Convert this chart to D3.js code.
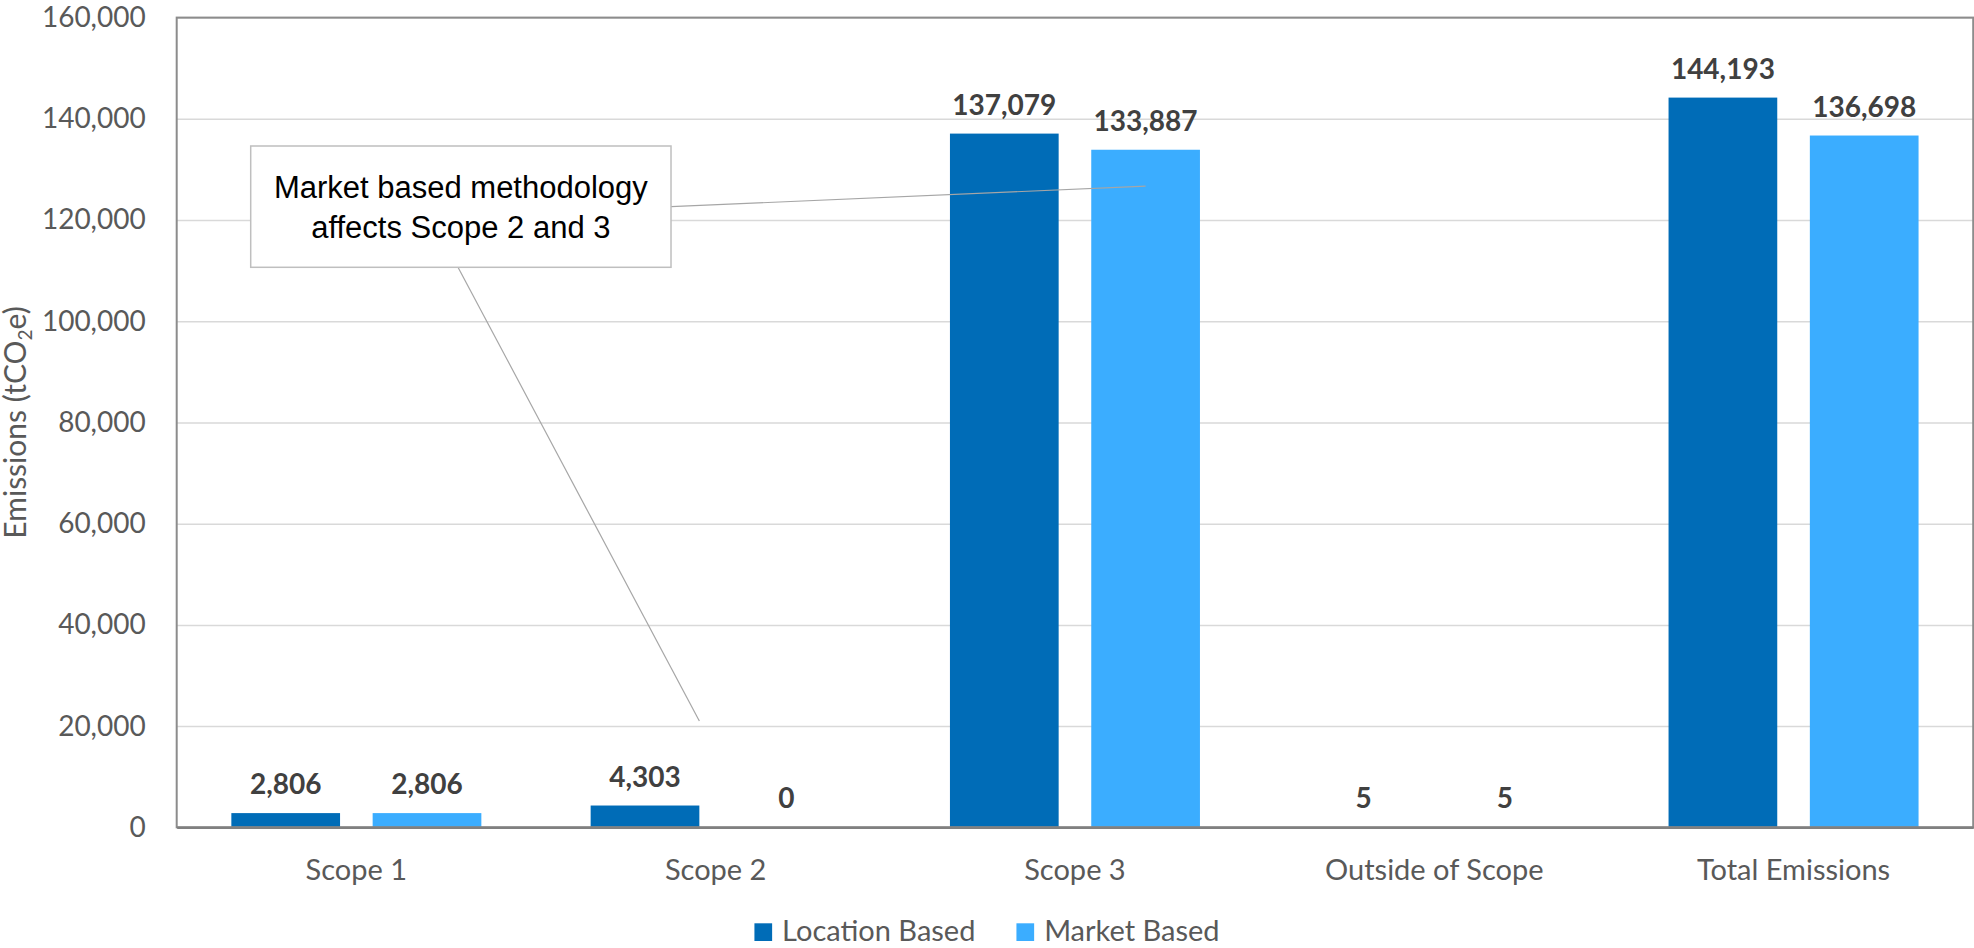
<!DOCTYPE html>
<html>
<head>
<meta charset="utf-8">
<script src="https://cdn.jsdelivr.net/npm/d3@7"></script>
<style>
  html, body { margin: 0; padding: 0; background: #ffffff; }
  svg { display: block; }
</style>
</head>
<body>
<svg id="chart" width="1974" height="948"></svg>
<script>
// ---- data ----
const categories = ["Scope 1", "Scope 2", "Scope 3", "Outside of Scope", "Total Emissions"];
const seriesNames = ["Location Based", "Market Based"];
const locationBased = [2806, 4303, 137079, 5, 144193];
const marketBased = [2806, 0, 133887, 5, 136698];
const yTicks = [0, 20000, 40000, 60000, 80000, 100000, 120000, 140000, 160000];
const seriesColors = ["#006CB7", "#3BADFF"];
const annotationLines = ["Market based methodology", "affects Scope 2 and 3"];

// ---- layout ----
const W = 1974, H = 948;
const plot = { left: 176.7, top: 17.6, right: 1973.2, bottom: 827.3 };

const svg = d3.select("#chart");

const x0 = d3.scaleBand().domain(categories).range([plot.left, plot.right])
  .paddingInner(0.3042).paddingOuter(0.1521);
const x1 = d3.scaleBand().domain(seriesNames).range([0, x0.bandwidth()])
  .paddingInner(0.2307).paddingOuter(0);
const y = d3.scaleLinear().domain([0, 160000]).range([plot.bottom, plot.top]);
const color = d3.scaleOrdinal().domain(seriesNames).range(seriesColors);

const rows = categories.map((c, i) => ({
  category: c,
  values: [
    { series: seriesNames[0], value: locationBased[i] },
    { series: seriesNames[1], value: marketBased[i] }
  ]
}));

// y axis with gridlines
const yAxis = d3.axisLeft(y).tickValues(yTicks).tickFormat(d3.format(","))
  .tickSize(-(plot.right - plot.left)).tickPadding(31);
const gy = svg.append("g").attr("transform", `translate(${plot.left},0)`).call(yAxis);
gy.select(".domain").remove();
gy.selectAll(".tick line").attr("stroke", "#D9D9D9").attr("stroke-width", 1.5);
gy.selectAll(".tick text")
  .attr("fill", "#595959")
  .style("font-family", "Lato, 'Open Sans', sans-serif")
  .style("font-size", "28px");

// bars
const groups = svg.append("g").selectAll("g").data(rows).join("g")
  .attr("transform", d => `translate(${x0(d.category)},0)`);

groups.selectAll("rect").data(d => d.values).join("rect")
  .attr("x", d => x1(d.series))
  .attr("y", d => y(d.value))
  .attr("width", x1.bandwidth())
  .attr("height", d => y(0) - y(d.value))
  .attr("fill", d => color(d.series));

// data labels
groups.selectAll("text.val").data(d => d.values).join("text")
  .attr("class", "val")
  .attr("x", d => x1(d.series) + x1.bandwidth() / 2)
  .attr("y", d => y(d.value) - 19)
  .attr("text-anchor", "middle")
  .attr("fill", "#404040")
  .style("font-family", "Lato, 'Open Sans', sans-serif")
  .style("font-weight", "bold")
  .style("font-size", "28px")
  .text(d => d3.format(",")(d.value));

// plot frame
svg.append("rect")
  .attr("x", plot.left).attr("y", plot.top)
  .attr("width", plot.right - plot.left).attr("height", plot.bottom - plot.top)
  .attr("fill", "none").attr("stroke", "#8C8C8C").attr("stroke-width", 2);

// x axis
const xAxis = d3.axisBottom(x0).tickSize(0).tickPadding(0);
const gx = svg.append("g").attr("transform", `translate(0,${plot.bottom})`).call(xAxis);
gx.select(".domain").attr("stroke", "#808080").attr("stroke-width", 2.5);
gx.selectAll(".tick text")
  .attr("y", 53).attr("dy", 0)
  .attr("fill", "#595959")
  .style("font-family", "Lato, 'Open Sans', sans-serif")
  .style("font-size", "29px");

// y axis title
const yTitle = svg.append("text")
  .attr("transform", `translate(26,${(plot.top + plot.bottom) / 2}) rotate(-90)`)
  .attr("text-anchor", "middle")
  .attr("fill", "#595959")
  .style("font-family", "Lato, 'Open Sans', sans-serif")
  .style("font-size", "30px");
yTitle.append("tspan").text("Emissions (tCO");
yTitle.append("tspan").attr("dy", 6).style("font-size", "19px").text("2");
yTitle.append("tspan").attr("dy", -6).text("e)");

// annotation callout
const box = { x: 250.7, y: 146, w: 420.3, h: 121.3 };
const annAnchors = [
  { from: [box.x + box.w, 206.7], cat: "Scope 3", series: "Market Based", frac: 0.5, value: 126700 },
  { from: [458, box.y + box.h], cat: "Scope 2", series: "Location Based", frac: 1.0, value: 21000 }
];
svg.append("g").selectAll("line").data(annAnchors).join("line")
  .attr("x1", d => d.from[0]).attr("y1", d => d.from[1])
  .attr("x2", d => x0(d.cat) + x1(d.series) + x1.bandwidth() * d.frac)
  .attr("y2", d => y(d.value))
  .attr("stroke", "#A6A6A6").attr("stroke-width", 1.2);

svg.append("rect")
  .attr("x", box.x).attr("y", box.y).attr("width", box.w).attr("height", box.h)
  .attr("fill", "#ffffff").attr("stroke", "#BFBFBF").attr("stroke-width", 1.5);
svg.append("g").selectAll("text").data(annotationLines).join("text")
  .attr("x", box.x + box.w / 2)
  .attr("y", (d, i) => 198 + i * 40)
  .attr("text-anchor", "middle")
  .attr("fill", "#000000")
  .style("font-family", "'Liberation Sans', Arial, sans-serif")
  .style("font-size", "31px")
  .text(d => d);

// legend
const legend = svg.append("g");
const items = legend.selectAll("g").data(seriesNames).join("g");
items.append("rect").attr("width", 17.7).attr("height", 17.7).attr("y", 923.3)
  .attr("fill", d => color(d));
items.append("text").attr("x", 27.7).attr("y", 941)
  .attr("fill", "#595959")
  .style("font-family", "Lato, 'Open Sans', sans-serif")
  .style("font-size", "29px")
  .text(d => d);
let cursor = 0;
const offsets = [];
items.each(function() {
  const tw = d3.select(this).select("text").node().getComputedTextLength();
  offsets.push(cursor);
  cursor += 27.7 + tw + 41;
});
const totalW = cursor - 41;
const startX = W / 2 - totalW / 2;
items.attr("transform", (d, i) => `translate(${startX + offsets[i]},0)`);
</script>
</body>
</html>
